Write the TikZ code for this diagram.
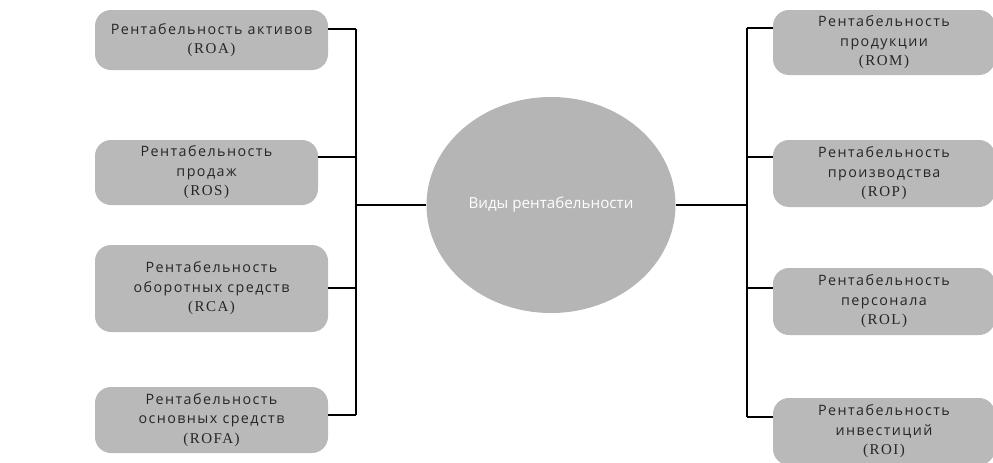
\documentclass[tikz,border=0pt]{standalone}
\usepackage{fontspec}
\setmainfont{Open Sans}[LetterSpace=10]
\newfontfamily\latfont{Liberation Serif}[LetterSpace=10]
\newfontfamily\circfont{Open Sans}
\usetikzlibrary{shapes.geometric}
\definecolor{boxgray}{HTML}{B9B9B9}
\definecolor{circgray}{HTML}{B5B5B5}
\definecolor{txtgray}{HTML}{262626}
\tikzset{
  vid/.style={rectangle,rounded corners=16pt,fill=boxgray,text=txtgray,align=center,
    font=\fontsize{14.3}{19.5}\selectfont,inner sep=0pt},
  link/.style={black,line width=1.3pt}
}
\newcommand{\abbr}[1]{{\latfont\fontsize{15}{19.5}\selectfont(#1)}}
\begin{document}
\begin{tikzpicture}[x=1pt,y=1pt]
        \useasboundingbox (0,0) rectangle (993,-463);

        % centre
        \node[ellipse,fill=circgray,minimum width=249pt,minimum height=216pt,
              text=white,font=\circfont\fontsize{15.2}{18}\selectfont] (vidy) at (551,-205) {Виды рентабельности};

        % left column
        \node[vid,minimum width=233pt,minimum height=60pt] (roa) at (211.5,-40)
            {Рентабельность активов\\\abbr{ROA}};
        \node[vid,minimum width=223pt,minimum height=65pt] (ros) at (206.5,-172.5)
            {Рентабельность\\продаж\\\abbr{ROS}};
        \node[vid,minimum width=233pt,minimum height=87pt] (rca) at (211.5,-288.5)
            {Рентабельность\\оборотных средств\\\abbr{RCA}};
        \node[vid,minimum width=233pt,minimum height=66pt] (rofa) at (211.5,-420)
            {Рентабельность\\основных средств\\\abbr{ROFA}};

        % right column
        \node[vid,minimum width=222pt,minimum height=65pt] (rom) at (884,-42.5)
            {Рентабельность\\продукции\\\abbr{ROM}};
        \node[vid,minimum width=222pt,minimum height=67pt] (rop) at (884,-173.5)
            {Рентабельность\\производства\\\abbr{ROP}};
        \node[vid,minimum width=222pt,minimum height=67pt] (rol) at (884,-301.5)
            {Рентабельность\\персонала\\\abbr{ROL}};
        \node[vid,minimum width=222pt,minimum height=67pt] (roi) at (884,-431.5)
            {Рентабельность\\инвестиций\\\abbr{ROI}};

        % joints on the buses
        \coordinate (jroa) at (356,-29);
        \coordinate (jros) at (356,-157);
        \coordinate (jrca) at (356,-288);
        \coordinate (jrofa) at (356,-415);
        \coordinate (jrom) at (747,-28);
        \coordinate (jrop) at (747,-157);
        \coordinate (jrol) at (747,-288);
        \coordinate (jroi) at (747,-417);

        \draw[link] (jroa) -- (jrofa);%left bus
        \draw[link] (jrom) -- (jroi);%right bus

        \draw[link] (jroa -| roa.east) -- (jroa);
        \draw[link] (jros -| ros.east) -- (jros);
        \draw[link] (jrca -| rca.east) -- (jrca);
        \draw[link] (jrofa -| rofa.east) -- (jrofa);
        \draw[link] (vidy.west) -- (vidy.west -| jroa);

        \draw[link] (jrom -| rom.west) -- (jrom);
        \draw[link] (jrop -| rop.west) -- (jrop);
        \draw[link] (jrol -| rol.west) -- (jrol);
        \draw[link] (jroi -| roi.west) -- (jroi);
        \draw[link] (vidy.east) -- (vidy.east -| jrom);

\end{tikzpicture}
\end{document}
